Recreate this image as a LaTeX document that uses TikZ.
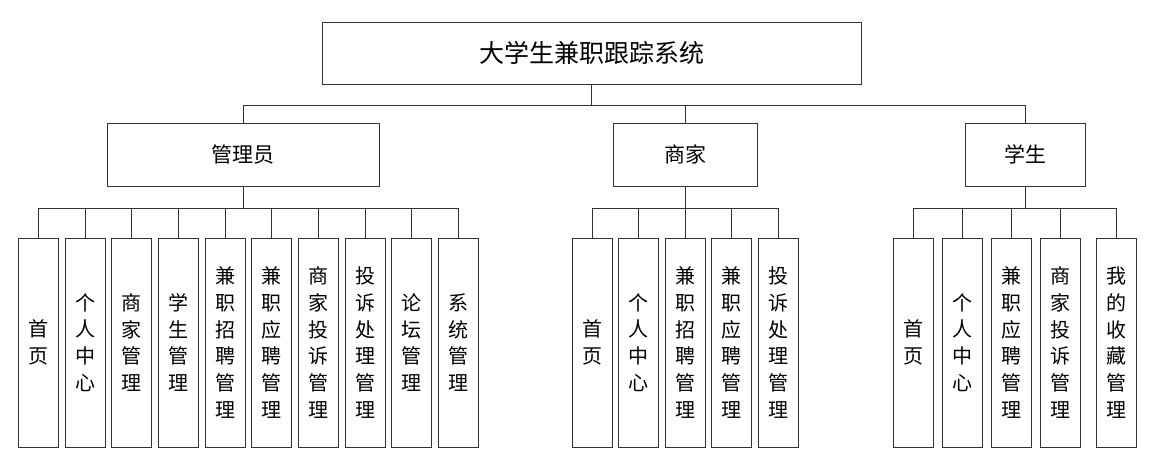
\documentclass[tikz,border=0pt]{standalone}
\usepackage{fontspec}
\setmainfont{Noto Sans CJK SC}
\usepackage{tikz}
\usetikzlibrary{positioning}
\usepackage{xcolor}

\begin{document}
\begin{tikzpicture}[
        x=1pt, y=-1pt,
        box/.style={
            rectangle,
            draw=black!80,
            line width=1pt,
            inner sep=0pt,
            align=center
        },
        top/.style={
            box,
            minimum width=539pt,
            minimum height=62pt,
            font=\fontsize{25}{30}\selectfont
        },
        role/.style={
            box,
            minimum height=63pt,
            font=\fontsize{21}{25}\selectfont
        },
        leaf/.style={
            box,
            minimum width=40pt,
            minimum height=209pt,
            font=\fontsize{20}{26.7}\selectfont
        },
        link/.style={
            draw=black!80,
            line width=1pt
        }
    ]

        \useasboundingbox (0,0) rectangle (1155,459);

        \node[top] (sys) at (591.5,53) {大学生兼职跟踪系统};

        \node[role, minimum width=272pt] (admin) at (243,154.5) {管理员};
        \node[role, minimum width=144pt] (shop) at (685,154.5) {商家};
        \node[role, minimum width=120pt] (stu) at (1025,154.5) {学生};

        % 管理员
        \node[leaf] (a1) at (38.5,342.5) {首\\页};
        \node[leaf] (a2) at (85.2,342.5) {个\\人\\中\\心};
        \node[leaf] (a3) at (131.8,342.5) {商\\家\\管\\理};
        \node[leaf] (a4) at (178.5,342.5) {学\\生\\管\\理};
        \node[leaf] (a5) at (225.2,342.5) {兼\\职\\招\\聘\\管\\理};
        \node[leaf] (a6) at (271.8,342.5) {兼\\职\\应\\聘\\管\\理};
        \node[leaf] (a7) at (318.5,342.5) {商\\家\\投\\诉\\管\\理};
        \node[leaf] (a8) at (365.2,342.5) {投\\诉\\处\\理\\管\\理};
        \node[leaf] (a9) at (411.8,342.5) {论\\坛\\管\\理};
        \node[leaf] (a10) at (458.5,342.5) {系\\统\\管\\理};

        % 商家
        \node[leaf] (s1) at (592,342.5) {首\\页};
        \node[leaf] (s2) at (638.5,342.5) {个\\人\\中\\心};
        \node[leaf] (s3) at (685,342.5) {兼\\职\\招\\聘\\管\\理};
        \node[leaf] (s4) at (731.5,342.5) {兼\\职\\应\\聘\\管\\理};
        \node[leaf] (s5) at (778,342.5) {投\\诉\\处\\理\\管\\理};

        % 学生
        \node[leaf] (u1) at (913,342.5) {首\\页};
        \node[leaf] (u2) at (962,342.5) {个\\人\\中\\心};
        \node[leaf] (u3) at (1011,342.5) {兼\\职\\应\\聘\\管\\理};
        \node[leaf] (u4) at (1060.5,342.5) {商\\家\\投\\诉\\管\\理};
        \node[leaf] (u5) at (1116.5,342.5) {我\\的\\收\\藏\\管\\理};

        \draw[link] (sys.south) -- ++(0,21) -| (admin.north);
        \draw[link] (sys.south) -- ++(0,21) -| (shop.north);
        \draw[link] (sys.south) -- ++(0,21) -| (stu.north);

        \draw[link] (admin.south) -- ++(0,22) -| (a1.north);
        \draw[link] (admin.south) -- ++(0,22) -| (a2.north);
        \draw[link] (admin.south) -- ++(0,22) -| (a3.north);
        \draw[link] (admin.south) -- ++(0,22) -| (a4.north);
        \draw[link] (admin.south) -- ++(0,22) -| (a5.north);
        \draw[link] (admin.south) -- ++(0,22) -| (a6.north);
        \draw[link] (admin.south) -- ++(0,22) -| (a7.north);
        \draw[link] (admin.south) -- ++(0,22) -| (a8.north);
        \draw[link] (admin.south) -- ++(0,22) -| (a9.north);
        \draw[link] (admin.south) -- ++(0,22) -| (a10.north);

        \draw[link] (shop.south) -- ++(0,22) -| (s1.north);
        \draw[link] (shop.south) -- ++(0,22) -| (s2.north);
        \draw[link] (shop.south) -- ++(0,22) -| (s3.north);
        \draw[link] (shop.south) -- ++(0,22) -| (s4.north);
        \draw[link] (shop.south) -- ++(0,22) -| (s5.north);

        \draw[link] (stu.south) -- ++(0,22) -| (u1.north);
        \draw[link] (stu.south) -- ++(0,22) -| (u2.north);
        \draw[link] (stu.south) -- ++(0,22) -| (u3.north);
        \draw[link] (stu.south) -- ++(0,22) -| (u4.north);
        \draw[link] (stu.south) -- ++(0,22) -| (u5.north);

    \end{tikzpicture}
\end{document}
